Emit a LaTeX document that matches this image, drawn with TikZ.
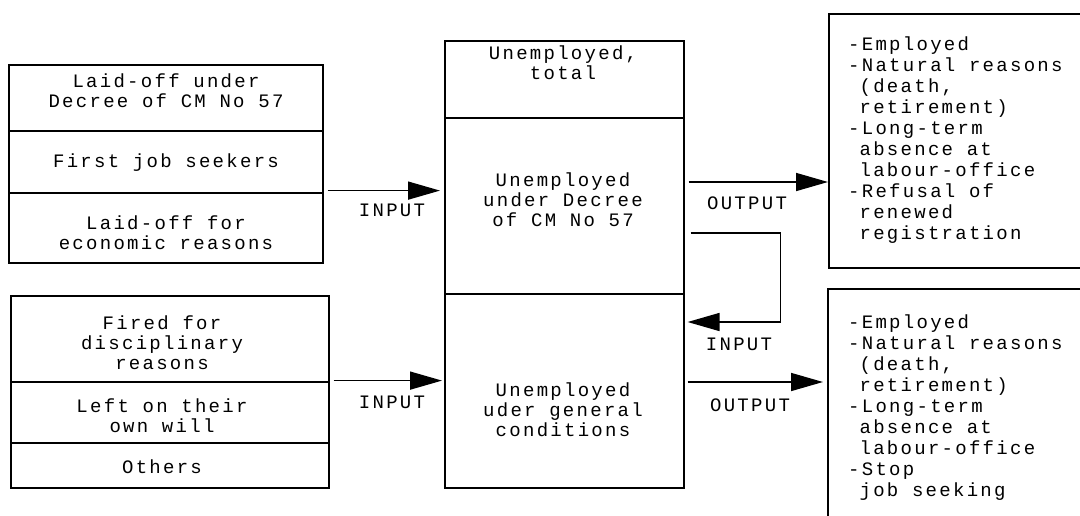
\documentclass[tikz,border=0pt]{standalone}
\usepackage{fontspec}
\setmainfont{Liberation Mono}[LetterSpace=12]
\usetikzlibrary{arrows.meta,calc}
\begin{document}
\begin{tikzpicture}[x=1pt,y=-1pt,
  cell/.style={draw, line width=1.6pt, inner sep=0pt, anchor=north west},
  lbl/.style={font=\fontsize{19}{20}\selectfont, align=center, inner sep=0pt},
  rt/.style={font=\fontsize{19}{21}\selectfont, align=left, inner sep=0pt, anchor=north west},
  arr/.style={line width=1.6pt, -{Triangle[length=32pt,width=18pt]}},
]
\useasboundingbox (0,0) rectangle (1080,515);
\begin{scope}
\clip (0,0) rectangle (1080,515);
% left top group
\node[cell, minimum width=314pt, minimum height=66pt] (l1) at (8,64) {};
\node[cell, minimum width=314pt, minimum height=62pt] (l2) at (8,130) {};
\node[cell, minimum width=314pt, minimum height=70pt] (l3) at (8,192) {};
% left bottom group
\node[cell, minimum width=318pt, minimum height=86pt] (b1) at (10,295) {};
\node[cell, minimum width=318pt, minimum height=61pt] (b2) at (10,381) {};
\node[cell, minimum width=318pt, minimum height=45pt] (b3) at (10,442) {};
% middle group
\node[cell, minimum width=239pt, minimum height=77pt] (m1) at (444,40) {};
\node[cell, minimum width=239pt, minimum height=176pt] (m2) at (444,117) {};
\node[cell, minimum width=239pt, minimum height=194pt] (m3) at (444,293) {};
% right boxes
\node[cell, minimum width=300pt, minimum height=254pt] (r1) at (828,13) {};
\node[cell, minimum width=300pt, minimum height=260pt] (r2) at (827,288) {};

% texts
\node[lbl] (tl1) at (166,91) {Laid-off under\\Decree of CM No 57};
\node[lbl] (tl2) at (166,163) {First job seekers};
\node[lbl] (tl3) at (166,233) {Laid-off for\\economic reasons};
\node[lbl] (tb1) at (162,343) {Fired for\\disciplinary\\reasons};
\node[lbl] (tb2) at (162,416) {Left on their\\own will};
\node[lbl] (tb3) at (162,467) {Others};
\node[lbl] (tm1) at (563,63) {Unemployed,\\total};
\node[lbl] (tm2) at (563,200) {Unemployed\\under Decree\\of CM No 57};
\node[lbl] (tm3) at (563,410) {Unemployed\\uder general\\conditions};
\node[rt] (tr1) at (848,37) {-Employed\\-Natural reasons\\\phantom{-}(death,\\\phantom{-}retirement)\\-Long-term\\\phantom{-}absence at\\\phantom{-}labour-office\\-Refusal of\\\phantom{-}renewed\\\phantom{-}registration};
\node[rt] (tr2) at (848,315) {-Employed\\-Natural reasons\\\phantom{-}(death,\\\phantom{-}retirement)\\-Long-term\\\phantom{-}absence at\\\phantom{-}labour-office\\-Stop\\\phantom{-}job seeking};

% arrows
\draw[arr] ($(l2.south east)+(4,-3)$) -- ($(l2.south east -| m2.west)+(-4,-3)$);
\draw[arr] ($(b1.south east)+(4,-2)$) -- ($(b1.south east -| m3.west)+(-2,-2)$);
\draw[arr] ($(m2.north east)+(4,65)$) -- ($(m2.north east -| r1.west)+(0,65)$);
\draw[arr] ($(m2.north east)+(6,116)$) -| ($(m3.north east)+(96,29)$) -- ($(m3.north east)+(3,29)$);
\draw[arr] ($(m3.north east)+(3,89)$) -- ($(m3.north east -| r2.west)+(-4,89)$);

% arrow labels
\node[lbl] (i1) at (392,210) {INPUT};
\node[lbl] (i2) at (392,402) {INPUT};
\node[lbl] (o1) at (747,203) {OUTPUT};
\node[lbl] (i3) at (739,344) {INPUT};
\node[lbl] (o2) at (750,405) {OUTPUT};
\end{scope}
\end{tikzpicture}
\end{document}
